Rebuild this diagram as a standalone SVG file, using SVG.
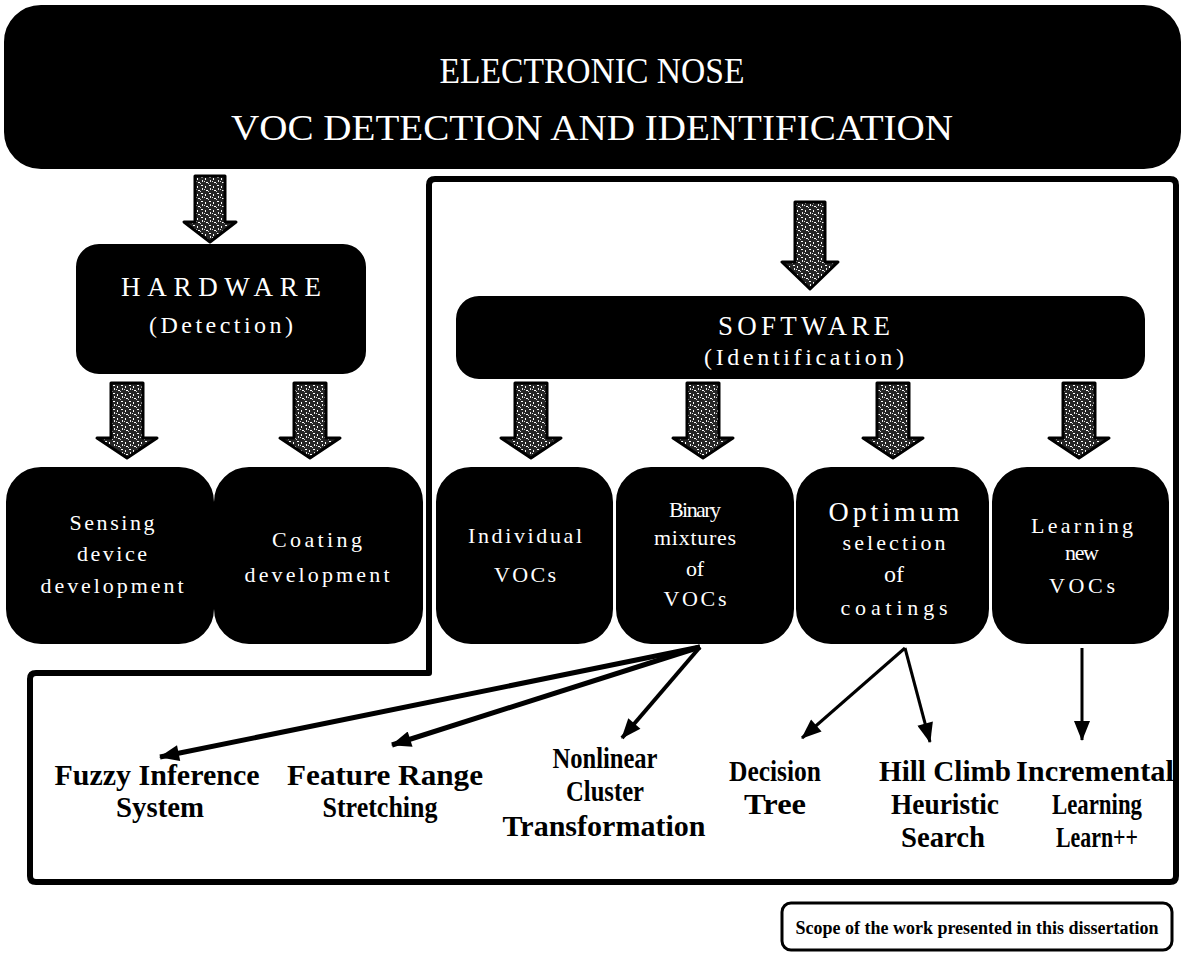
<svg xmlns="http://www.w3.org/2000/svg" width="1183" height="962" viewBox="0 0 1183 962">
<style>
.box{fill:#000;stroke:#000;stroke-width:2}
.wt{fill:#fff;font-family:"Liberation Serif",serif;text-anchor:middle}
.bt{fill:#000;font-family:"Liberation Serif",serif;font-weight:bold;text-anchor:middle;font-size:30px}
.barrow{fill:url(#speck);stroke:#000;stroke-width:3;stroke-linejoin:round}
.con{stroke:#000;fill:none}
</style>
<defs>
<pattern id="speck" width="8" height="8" patternUnits="userSpaceOnUse">
<rect width="8" height="8" fill="#262626"/>
<rect x="1" y="1" width="2" height="1" fill="#fff"/>
<rect x="5" y="2" width="1" height="2" fill="#fff"/>
<rect x="2" y="4" width="1" height="2" fill="#eee"/>
<rect x="6" y="6" width="2" height="1" fill="#fff"/>
<rect x="0" y="7" width="1" height="1" fill="#ccc"/>
<rect x="4" y="5" width="1" height="1" fill="#ddd"/>
</pattern>
<marker id="ah" viewBox="0 0 20 16" refX="19" refY="8" markerWidth="22" markerHeight="16" markerUnits="userSpaceOnUse" orient="auto">
<path d="M0,0 L20,8 L0,16 Z" fill="#000"/>
</marker>
</defs>

<g id="scope-outline">
<path d="M429,673 L429,185 Q429,179 435,179 L1170,179 Q1176,179 1176,185 L1176,876 Q1176,882 1170,882 L36,882 Q30,882 30,876 L30,679 Q30,673 36,673 Z" fill="none" stroke="#000" stroke-width="6" stroke-linejoin="round"/>
</g>

<g id="enose">
<rect class="box" x="5" y="6" width="1175" height="162" rx="36"/>
<text class="wt" x="592" y="83" font-size="36" textLength="305" lengthAdjust="spacingAndGlyphs">ELECTRONIC NOSE</text>
<text class="wt" x="592" y="140" font-size="36" textLength="722" lengthAdjust="spacingAndGlyphs">VOC DETECTION AND IDENTIFICATION</text>
</g>

<g id="hardware">
<rect class="box" x="77" y="245" width="288" height="128" rx="22"/>
<text class="wt" x="221" y="296" font-size="27" textLength="200" lengthAdjust="spacing">HARDWARE</text>
<text class="wt" x="221" y="333" font-size="24" textLength="144" lengthAdjust="spacing">(Detection)</text>
</g>

<g id="software">
<rect class="box" x="457" y="297" width="687" height="81" rx="22"/>
<text class="wt" x="804" y="335" font-size="27" textLength="172" lengthAdjust="spacing">SOFTWARE</text>
<text class="wt" x="804" y="365" font-size="24" textLength="200" lengthAdjust="spacing">(Identification)</text>
</g>

<g id="sensing">
<rect class="box" x="7" y="468" width="206" height="175" rx="34"/>
<text class="wt" x="112" y="530" font-size="22" textLength="85" lengthAdjust="spacing">Sensing</text>
<text class="wt" x="112" y="561" font-size="22" textLength="70" lengthAdjust="spacing">device</text>
<text class="wt" x="112" y="593" font-size="22" textLength="143" lengthAdjust="spacing">development</text>
</g>

<g id="coating">
<rect class="box" x="215" y="468" width="207" height="175" rx="34"/>
<text class="wt" x="317" y="547" font-size="22" textLength="90" lengthAdjust="spacing">Coating</text>
<text class="wt" x="317" y="582" font-size="22" textLength="145" lengthAdjust="spacing">development</text>
</g>

<g id="individual">
<rect class="box" x="437" y="468" width="175" height="175" rx="34"/>
<text class="wt" x="525" y="543" font-size="22" textLength="114" lengthAdjust="spacing">Individual</text>
<text class="wt" x="525" y="582" font-size="22" textLength="62" lengthAdjust="spacing">VOCs</text>
</g>

<g id="binary">
<rect class="box" x="617" y="468" width="176" height="175" rx="34"/>
<text class="wt" x="695" y="517" font-size="22" textLength="52" lengthAdjust="spacing">Binary</text>
<text class="wt" x="695" y="545" font-size="22" textLength="82" lengthAdjust="spacing">mixtures</text>
<text class="wt" x="695" y="576" font-size="22" textLength="18" lengthAdjust="spacing">of</text>
<text class="wt" x="695" y="606" font-size="22" textLength="63" lengthAdjust="spacing">VOCs</text>
</g>

<g id="optimum">
<rect class="box" x="797" y="468" width="191" height="175" rx="34"/>
<text class="wt" x="894" y="521" font-size="28" textLength="131" lengthAdjust="spacing">Optimum</text>
<text class="wt" x="894" y="550" font-size="22" textLength="103" lengthAdjust="spacing">selection</text>
<text class="wt" x="894" y="582" font-size="24" textLength="20" lengthAdjust="spacing">of</text>
<text class="wt" x="894" y="615" font-size="22" textLength="107" lengthAdjust="spacing">coatings</text>
</g>

<g id="learning">
<rect class="box" x="993" y="468" width="175" height="175" rx="34"/>
<text class="wt" x="1082" y="533" font-size="22" textLength="102" lengthAdjust="spacing">Learning</text>
<text class="wt" x="1082" y="560" font-size="22" textLength="34" lengthAdjust="spacing">new</text>
<text class="wt" x="1082" y="593" font-size="22" textLength="66" lengthAdjust="spacing">VOCs</text>
</g>

<g id="block-arrows">
<path class="barrow" d="M195,176 H225 V222 H236 L210,242 L184,222 H195 Z"/>
<path class="barrow" d="M795,202 H825 V262 H838 L810,289 L782,262 H795 Z"/>
<path class="barrow" d="M111,383 H143 V438 H157 L127,458 L97,438 H111 Z"/>
<path class="barrow" d="M294,383 H326 V438 H340 L310,458 L280,438 H294 Z"/>
<path class="barrow" d="M515,383 H547 V438 H561 L531,458 L501,438 H515 Z"/>
<path class="barrow" d="M687,383 H719 V438 H733 L703,458 L673,438 H687 Z"/>
<path class="barrow" d="M877,383 H909 V438 H923 L893,458 L863,438 H877 Z"/>
<path class="barrow" d="M1063,383 H1095 V438 H1109 L1079,458 L1049,438 H1063 Z"/>
</g>

<g id="connectors">
<line class="con" x1="700" y1="647" x2="160" y2="757" stroke-width="5" marker-end="url(#ah)"/>
<line class="con" x1="700" y1="647" x2="392" y2="745" stroke-width="5" marker-end="url(#ah)"/>
<line class="con" x1="700" y1="647" x2="622" y2="738" stroke-width="4" marker-end="url(#ah)"/>
<line class="con" x1="905" y1="648" x2="802" y2="738" stroke-width="3" marker-end="url(#ah)"/>
<line class="con" x1="905" y1="648" x2="930" y2="742" stroke-width="3" marker-end="url(#ah)"/>
<line class="con" x1="1082" y1="648" x2="1082" y2="740" stroke-width="3" marker-end="url(#ah)"/>
</g>

<g id="fuzzy">
<text class="bt" x="157" y="785" textLength="205" lengthAdjust="spacingAndGlyphs">Fuzzy Inference</text>
<text class="bt" x="160" y="817" textLength="88" lengthAdjust="spacingAndGlyphs">System</text>
</g>
<g id="feature">
<text class="bt" x="385" y="785" textLength="196" lengthAdjust="spacingAndGlyphs">Feature Range</text>
<text class="bt" x="380" y="817" textLength="115" lengthAdjust="spacingAndGlyphs">Stretching</text>
</g>
<g id="nonlinear">
<text class="bt" x="605" y="768" textLength="105" lengthAdjust="spacingAndGlyphs">Nonlinear</text>
<text class="bt" x="605" y="801" textLength="78" lengthAdjust="spacingAndGlyphs">Cluster</text>
<text class="bt" x="604" y="836" textLength="203" lengthAdjust="spacingAndGlyphs">Transformation</text>
</g>
<g id="decision">
<text class="bt" x="775" y="781" textLength="92" lengthAdjust="spacingAndGlyphs">Decision</text>
<text class="bt" x="775" y="814" textLength="62" lengthAdjust="spacingAndGlyphs">Tree</text>
</g>
<g id="hillclimb">
<text class="bt" x="945" y="781" textLength="132" lengthAdjust="spacingAndGlyphs">Hill Climb</text>
<text class="bt" x="945" y="814" textLength="108" lengthAdjust="spacingAndGlyphs">Heuristic</text>
<text class="bt" x="943" y="847" textLength="84" lengthAdjust="spacingAndGlyphs">Search</text>
</g>
<g id="incremental">
<text class="bt" x="1095" y="781" textLength="158" lengthAdjust="spacingAndGlyphs">Incremental</text>
<text class="bt" x="1097" y="814" textLength="90" lengthAdjust="spacingAndGlyphs">Learning</text>
<text class="bt" x="1097" y="847" textLength="82" lengthAdjust="spacingAndGlyphs">Learn++</text>
</g>

<g id="scope-legend">
<rect x="782" y="903" width="390" height="47" rx="9" fill="#fff" stroke="#000" stroke-width="3"/>
<text class="bt" x="977" y="934" style="font-size:18px">Scope of the work presented in this dissertation</text>
</g>
</svg>
